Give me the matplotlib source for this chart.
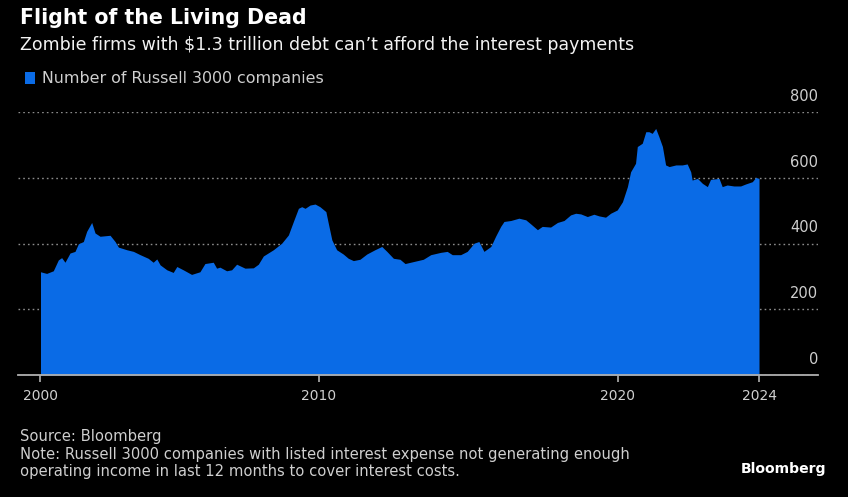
import numpy as np
import matplotlib
matplotlib.use("Agg")
import matplotlib.pyplot as plt
from matplotlib.patches import Patch
from matplotlib.transforms import ScaledTranslation

# ---- data ----
years = [2000.00, 2000.22, 2000.46, 2000.64, 2000.76, 2000.88, 2001.06, 2001.24, 2001.36, 2001.54,
         2001.66, 2001.84, 2001.96, 2002.14, 2002.50, 2002.68, 2002.80, 2003.10, 2003.34, 2003.58,
         2003.87, 2004.05, 2004.18, 2004.30, 2004.54, 2004.77, 2004.90, 2005.13, 2005.43, 2005.73,
         2005.91, 2006.21, 2006.33, 2006.45, 2006.69, 2006.87, 2007.05, 2007.35, 2007.65, 2007.83,
         2008.01, 2008.37, 2008.67, 2008.91, 2009.09, 2009.27, 2009.39, 2009.51, 2009.69, 2009.87,
         2010.04, 2010.24, 2010.32, 2010.44, 2010.60, 2010.82, 2010.99, 2011.16, 2011.38, 2011.61,
         2011.88, 2012.11, 2012.28, 2012.50, 2012.72, 2012.89, 2013.17, 2013.50, 2013.75, 2014.08,
         2014.30, 2014.47, 2014.75, 2014.97, 2015.20, 2015.36, 2015.53, 2015.76, 2015.92, 2016.09,
         2016.20, 2016.43, 2016.70, 2016.93, 2017.09, 2017.32, 2017.48, 2017.76, 2017.99, 2018.21,
         2018.43, 2018.60, 2018.77, 2018.99, 2019.21, 2019.38, 2019.60, 2019.77, 2019.99, 2020.14,
         2020.28, 2020.37, 2020.51, 2020.56, 2020.70, 2020.80, 2020.89, 2020.98, 2021.08, 2021.17,
         2021.27, 2021.36, 2021.46, 2021.65, 2021.83, 2021.97, 2022.07, 2022.11, 2022.26, 2022.40,
         2022.54, 2022.63, 2022.87, 2022.96, 2023.10, 2023.29, 2023.48, 2023.62, 2023.81, 2023.91,
         2024.00]
counts = [314, 309, 317, 350, 357, 343, 371, 376, 399, 406,
          437, 464, 432, 422, 425, 406, 389, 381, 376, 366,
          355, 343, 353, 335, 320, 312, 330, 320, 306, 314,
          339, 343, 325, 328, 317, 320, 337, 325, 326, 337,
          362, 381, 401, 426, 467, 507, 512, 507, 517, 520,
          512, 497, 462, 411, 381, 368, 355, 348, 352, 368,
          381, 391, 376, 355, 352, 339, 345, 352, 366, 373,
          376, 366, 366, 376, 401, 406, 376, 391, 422, 452,
          467, 470, 477, 472, 460, 442, 452, 450, 464, 470,
          487, 492, 490, 482, 489, 484, 480, 492, 502, 527,
          573, 618, 644, 695, 705, 740, 740, 735, 750, 725,
          695, 639, 634, 639, 639, 642, 618, 593, 598, 583,
          573, 595, 598, 573, 578, 575, 575, 581, 588, 601,
          598]

x_tick_years = [2000, 2010, 2020, 2024]
x_tick_labels = ["2000", "2010", "2020", "2024"]
y_ticks = [0, 200, 400, 600, 800]
y_tick_labels = ["0", "200", "400", "600", "800"]

title = "Flight of the Living Dead"
subtitle = "Zombie firms with $1.3 trillion debt can\u2019t afford the interest payments"
legend_label = "Number of Russell 3000 companies"
source = "Source: Bloomberg"
note = ("Note: Russell 3000 companies with listed interest expense not generating enough\n"
        "operating income in last 12 months to cover interest costs.")
brand = "Bloomberg"

# ---- style ----
BG = "#000000"
BLUE = "#0a6be6"
TXT = "#f2f2f2"
GREY = "#cfcfcf"

# the original time axis is spaced unevenly between its labelled years
brk_y = np.array([2000.0, 2010.0, 2020.0, 2024.0])
brk_p = np.array([0.0, 278.2, 577.0, 718.5])
s_lo = (brk_p[1] - brk_p[0]) / (brk_y[1] - brk_y[0])
s_hi = (brk_p[-1] - brk_p[-2]) / (brk_y[-1] - brk_y[-2])


def fwd(v):
    v = np.asarray(v, dtype=float)
    out = np.interp(v, brk_y, brk_p)
    out = np.where(v < brk_y[0], brk_p[0] + (v - brk_y[0]) * s_lo, out)
    out = np.where(v > brk_y[-1], brk_p[-1] + (v - brk_y[-1]) * s_hi, out)
    return out


def inv(p):
    p = np.asarray(p, dtype=float)
    out = np.interp(p, brk_p, brk_y)
    out = np.where(p < brk_p[0], brk_y[0] + (p - brk_p[0]) / s_lo, out)
    out = np.where(p > brk_p[-1], brk_y[-1] + (p - brk_p[-1]) / s_hi, out)
    return out


W, H = 848, 497
fig = plt.figure(figsize=(W / 100, H / 100), dpi=100, facecolor=BG)
ax = fig.add_axes([18 / W, 1 - 375 / H, 800 / W, 263 / H], facecolor=BG)
ax.set_xscale("function", functions=(fwd, inv))

ax.fill_between(years, counts, 0, color=BLUE, lw=0, zorder=2)

ax.set_xlim(float(inv(-22.5)), float(inv(777.5)))
ax.set_ylim(0, 800)

ax.set_axisbelow(True)
ax.grid(axis="y", color="#8c8c8c", lw=1.0, ls=(0, (1.2, 2.2)))
ax.grid(axis="x", visible=False)

for side in ("top", "left", "right"):
    ax.spines[side].set_visible(False)
ax.spines["bottom"].set_color("#b0b0b0")
ax.spines["bottom"].set_linewidth(1.3)
ax.spines["bottom"].set_zorder(3)

ax.set_xticks(x_tick_years)
ax.set_xticklabels(x_tick_labels)
ax.xaxis.set_minor_locator(matplotlib.ticker.NullLocator())
ax.tick_params(axis="x", direction="out", length=5, width=1.2, color="#b0b0b0",
               labelcolor=GREY, labelsize=10, pad=5)

ax.yaxis.tick_right()
ax.set_yticks(y_ticks)
ax.set_yticklabels(y_tick_labels)
ax.tick_params(axis="y", length=0, pad=0, labelcolor=GREY, labelsize=10.5)
off = ScaledTranslation(0, 0.11, fig.dpi_scale_trans)
for lbl in ax.get_yticklabels():
    lbl.set_ha("right")
    lbl.set_va("baseline")
    lbl.set_transform(lbl.get_transform() + off)

# ---- texts ----
fig.text(20 / W, 1 - 18 / H, title, color="white", fontsize=14.8, fontweight="bold",
         va="center", ha="left")
fig.text(20 / W, 1 - 45 / H, subtitle, color=TXT, fontsize=12.5, va="center", ha="left")

leg = fig.legend(handles=[Patch(facecolor=BLUE, edgecolor="none")], labels=[legend_label],
                 loc="center left", bbox_to_anchor=(25 / W, 1 - 79 / H), frameon=False,
                 fontsize=11.4, handlelength=0.65, handleheight=0.7, handletextpad=0.45,
                 borderpad=0, borderaxespad=0, labelcolor=GREY)

fig.text(20 / W, 1 - 437 / H, source, color=GREY, fontsize=10.6, va="center", ha="left")
fig.text(20 / W, 1 - 463 / H, note, color=GREY, fontsize=10.6, va="center", ha="left",
         linespacing=1.12)
fig.text(826 / W, 1 - 469 / H, brand, color="white", fontsize=10.1, fontweight="bold",
         va="center", ha="right")

fig.savefig("out.png", dpi=100, facecolor=BG)
